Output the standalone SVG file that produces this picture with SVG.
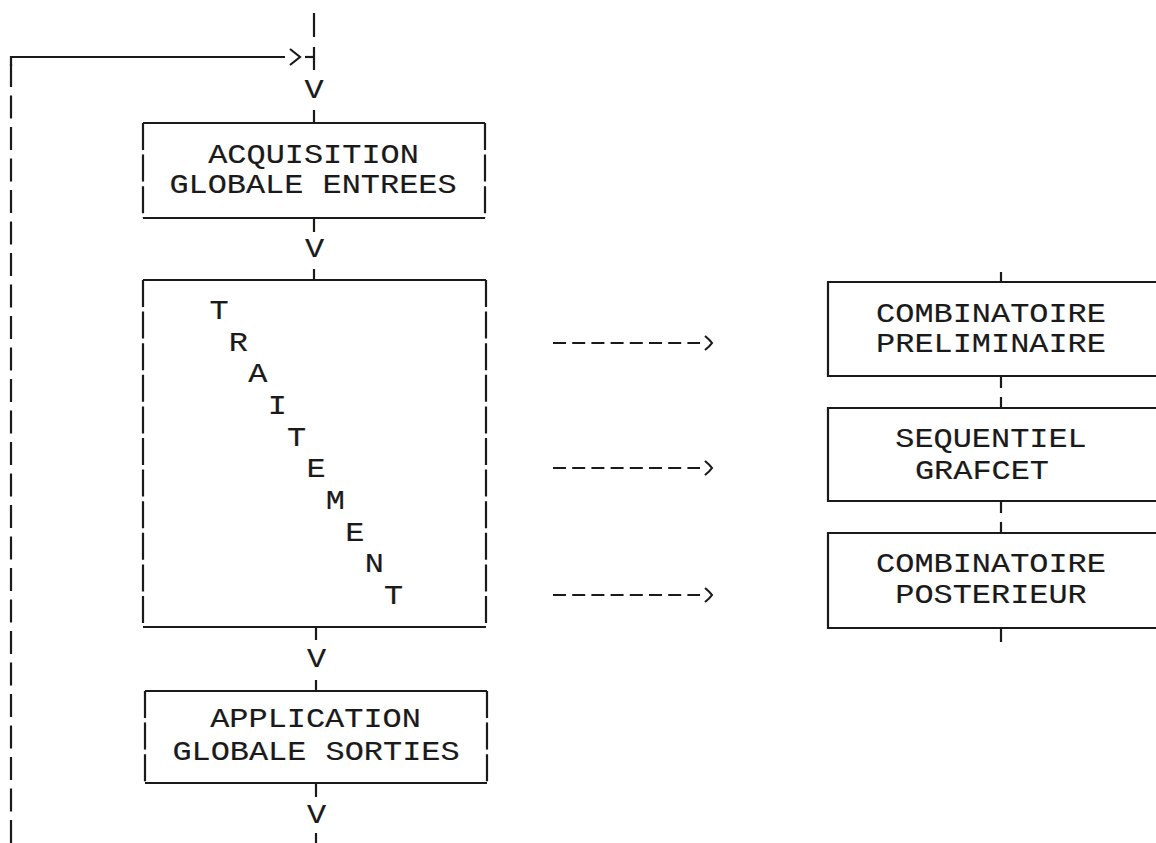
<svg xmlns="http://www.w3.org/2000/svg" width="1156" height="843" viewBox="0 0 1156 843">
<style>
.ln{stroke:#1a1a1a;stroke-width:2.2;fill:none}
.vd{stroke-dasharray:27 4.6}
.lp{stroke-dasharray:23 8.5}
.da{stroke-dasharray:13 6.2}
.t{font-family:"Liberation Mono","DejaVu Sans Mono",monospace;font-size:28px;fill:#1a1a1a;stroke:#1a1a1a;stroke-width:0.15;text-anchor:middle}
</style>
<rect width="1156" height="843" fill="#ffffff"/>
<g id="connectors">
  <path class="ln lp" d="M11,843 L11,57"/>
  <path class="ln" d="M11,66 L11,57 L285,57"/>
  <path class="ln" d="M290,49 L300,57 L290,65"/>
  <path class="ln" d="M305,57 L314,57"/>
  <path class="ln" d="M314,13 L314,37 M314,47 L314,70 M314,110 L314,123"/>
  <text class="t" transform="translate(314,98) scale(1.14,1)">V</text>
  <path class="ln" d="M314,218 L314,232 M314,269 L314,280"/>
  <text class="t" transform="translate(314.5,257) scale(1.14,1)">V</text>
  <path class="ln" d="M316,627 L316,640 M316,680 L316,691"/>
  <text class="t" transform="translate(316.5,667) scale(1.14,1)">V</text>
  <path class="ln" d="M316,783 L316,797 M316,833 L316,843"/>
  <text class="t" transform="translate(316.5,823) scale(1.14,1)">V</text>
  <path class="ln da" d="M553,343 L700,343"/>
  <path class="ln" d="M705,336 Q710,340 712,343 Q710,346 705,350"/>
  <path class="ln da" d="M553,468 L700,468"/>
  <path class="ln" d="M705,461 Q710,465 712,468 Q710,471 705,475"/>
  <path class="ln da" d="M553,595 L700,595"/>
  <path class="ln" d="M705,588 Q710,592 712,595 Q710,598 705,602"/>
  <path class="ln" d="M1001,272 L1001,282 M1001,376 L1001,388 M1001,397 L1001,408 M1001,501 L1001,513 M1001,522 L1001,533 M1001,628 L1001,642"/>
</g>
<g id="acquisition">
  <path class="ln" d="M143,123 L485,123 M143,218 L485,218"/>
  <path class="ln vd" d="M143,123 L143,218 M485,123 L485,218"/>
  <text class="t" transform="translate(313.5,163) scale(1.14,1)">ACQUISITION</text>
  <text class="t" transform="translate(313,193) scale(1.14,1)">GLOBALE ENTREES</text>
</g>
<g id="traitement">
  <path class="ln" d="M143,280 L486,280 M143,627 L486,627"/>
  <path class="ln vd" d="M143,280 L143,627 M486,280 L486,627"/>
  <text class="t" transform="translate(219,319) scale(1.14,1)">T</text>
  <text class="t" transform="translate(238.4,351) scale(1.14,1)">R</text>
  <text class="t" transform="translate(257.8,382) scale(1.14,1)">A</text>
  <text class="t" transform="translate(277.2,414) scale(1.14,1)">I</text>
  <text class="t" transform="translate(296.6,446) scale(1.14,1)">T</text>
  <text class="t" transform="translate(316,477) scale(1.14,1)">E</text>
  <text class="t" transform="translate(335.4,509) scale(1.14,1)">M</text>
  <text class="t" transform="translate(354.8,541) scale(1.14,1)">E</text>
  <text class="t" transform="translate(374.2,572) scale(1.14,1)">N</text>
  <text class="t" transform="translate(393.6,604) scale(1.14,1)">T</text>
</g>
<g id="application">
  <path class="ln" d="M145,691 L487,691 M145,783 L487,783"/>
  <path class="ln vd" d="M145,691 L145,783 M487,691 L487,783"/>
  <text class="t" transform="translate(315.5,727) scale(1.14,1)">APPLICATION</text>
  <text class="t" transform="translate(316,760) scale(1.14,1)">GLOBALE SORTIES</text>
</g>
<g id="combinatoire-preliminaire">
  <path class="ln" d="M1160,282 L828,282 L828,376 L1160,376"/>
  <text class="t" transform="translate(991,322) scale(1.14,1)">COMBINATOIRE</text>
  <text class="t" transform="translate(991,352) scale(1.14,1)">PRELIMINAIRE</text>
</g>
<g id="sequentiel-grafcet">
  <path class="ln" d="M1160,408 L828,408 L828,501 L1160,501"/>
  <text class="t" transform="translate(991,447) scale(1.14,1)">SEQUENTIEL</text>
  <text class="t" transform="translate(982,479) scale(1.14,1)">GRAFCET</text>
</g>
<g id="combinatoire-posterieur">
  <path class="ln" d="M1160,533 L828,533 L828,628 L1160,628"/>
  <text class="t" transform="translate(991,572) scale(1.14,1)">COMBINATOIRE</text>
  <text class="t" transform="translate(991,603) scale(1.14,1)">POSTERIEUR</text>
</g>
</svg>
